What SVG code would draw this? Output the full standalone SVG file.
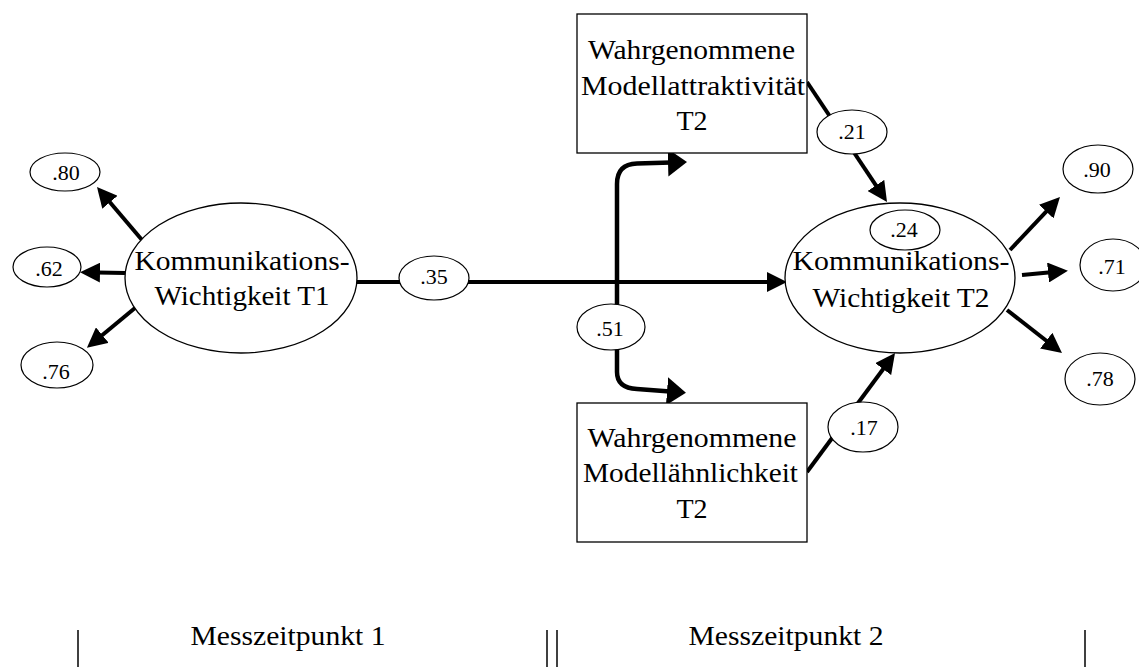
<svg xmlns="http://www.w3.org/2000/svg" width="1139" height="667" viewBox="0 0 1139 667">
<style>
text{font-family:"Liberation Serif","Times New Roman",serif;fill:#000;text-anchor:middle}
.big{font-size:28px}
.num{font-size:22px}
.node{fill:#fff;stroke:#000;stroke-width:1.3}
.small{fill:#fff;stroke:#000;stroke-width:1.2}
.arr{fill:none;stroke:#000;stroke-width:4;marker-end:url(#ah)}
.carr{fill:none;stroke:#000;stroke-width:4.5;marker-end:url(#ahc)}
.sep{stroke:#000;stroke-width:1.5}
</style>
<defs>
<marker id="ah" markerUnits="userSpaceOnUse" markerWidth="20" markerHeight="20" viewBox="0 0 20 20" refX="3" refY="10" orient="auto"><path d="M0,0 L20,10 L0,20 z" fill="#000"/></marker>
<marker id="ahc" markerUnits="userSpaceOnUse" markerWidth="19" markerHeight="28" viewBox="0 0 19 28" refX="3" refY="14" orient="auto"><path d="M0,0 L19,14 L0,28 z" fill="#000"/></marker>
</defs>
<g id="connectors">
<line class="arr" x1="142" y1="240" x2="108" y2="200"/>
<line class="arr" x1="125" y1="273" x2="97" y2="272.5"/>
<line class="arr" x1="135" y1="308" x2="100" y2="337"/>
<line class="arr" x1="357" y1="282" x2="770" y2="282"/>
<line class="arr" x1="807" y1="82" x2="877.6" y2="187.9"/>
<line class="arr" x1="807" y1="472" x2="884.9" y2="366.7"/>
<line class="arr" x1="1010" y1="250" x2="1048.3" y2="209.4"/>
<line class="arr" x1="1022" y1="275" x2="1051" y2="272.3"/>
<line class="arr" x1="1007" y1="310" x2="1048.6" y2="342.5"/>
<path class="carr" d="M617,327 L617,184 Q617,164 637,163.5 L671,162.5"/>
<path class="carr" d="M617,327 L617,372 Q617,388 637,389 L670,391.5"/>
</g>
<g id="n_t1">
<ellipse class="node" cx="241" cy="278" rx="116" ry="75"/>
<text class="big" x="242" y="270" textLength="215" lengthAdjust="spacingAndGlyphs">Kommunikations-</text>
<text class="big" x="242" y="305" textLength="175" lengthAdjust="spacingAndGlyphs">Wichtigkeit T1</text>
</g>
<g id="n_t2">
<ellipse class="node" cx="900" cy="278" rx="115" ry="75"/>
<text class="big" x="901" y="270" textLength="217" lengthAdjust="spacingAndGlyphs">Kommunikations-</text>
<text class="big" x="901" y="307" textLength="177" lengthAdjust="spacingAndGlyphs">Wichtigkeit T2</text>
</g>
<g id="n_attr">
<rect class="node" x="577" y="14" width="230" height="139"/>
<text class="big" x="691.5" y="59" textLength="207" lengthAdjust="spacingAndGlyphs">Wahrgenommene</text>
<text class="big" x="693" y="95" textLength="224" lengthAdjust="spacingAndGlyphs">Modellattraktivität</text>
<text class="big" x="692" y="130">T2</text>
</g>
<g id="n_aehn">
<rect class="node" x="577" y="403" width="230" height="139"/>
<text class="big" x="692" y="447" textLength="209" lengthAdjust="spacingAndGlyphs">Wahrgenommene</text>
<text class="big" x="690.5" y="482" textLength="215" lengthAdjust="spacingAndGlyphs">Modellähnlichkeit</text>
<text class="big" x="692" y="518">T2</text>
</g>
<g id="e80"><ellipse class="small" cx="65" cy="172" rx="35" ry="19"/><text class="num" x="66" y="180">.80</text></g>
<g id="e62"><ellipse class="small" cx="47" cy="267" rx="34" ry="20"/><text class="num" x="49" y="276">.62</text></g>
<g id="e76"><ellipse class="small" cx="57" cy="365" rx="36" ry="23"/><text class="num" x="56" y="379">.76</text></g>
<g id="e35"><ellipse class="small" cx="434" cy="278" rx="35" ry="22"/><text class="num" x="434" y="284">.35</text></g>
<g id="e51"><ellipse class="small" cx="611" cy="327" rx="34" ry="23"/><text class="num" x="610" y="336">.51</text></g>
<g id="e21"><ellipse class="small" cx="852" cy="132" rx="35" ry="22"/><text class="num" x="852" y="139">.21</text></g>
<g id="e24"><ellipse class="small" cx="905" cy="230" rx="35" ry="20"/><text class="num" x="904" y="237">.24</text></g>
<g id="e17"><ellipse class="small" cx="863" cy="427" rx="35" ry="25"/><text class="num" x="864" y="435">.17</text></g>
<g id="e90"><ellipse class="small" cx="1098" cy="169" rx="35" ry="24"/><text class="num" x="1097" y="177">.90</text></g>
<g id="e71"><ellipse class="small" cx="1113" cy="265" rx="33" ry="26"/><text class="num" x="1112" y="274">.71</text></g>
<g id="e78"><ellipse class="small" cx="1100" cy="379" rx="35" ry="26"/><text class="num" x="1100" y="386">.78</text></g>
<g id="timeline">
<line class="sep" x1="78" y1="630" x2="78" y2="667"/>
<line class="sep" x1="547" y1="630" x2="547" y2="667"/>
<line class="sep" x1="557" y1="630" x2="557" y2="667"/>
<line class="sep" x1="1085" y1="630" x2="1085" y2="667"/>
<text class="big" x="288" y="645" textLength="195" lengthAdjust="spacingAndGlyphs">Messzeitpunkt 1</text>
<text class="big" x="786" y="645" textLength="195" lengthAdjust="spacingAndGlyphs">Messzeitpunkt 2</text>
</g>
</svg>
